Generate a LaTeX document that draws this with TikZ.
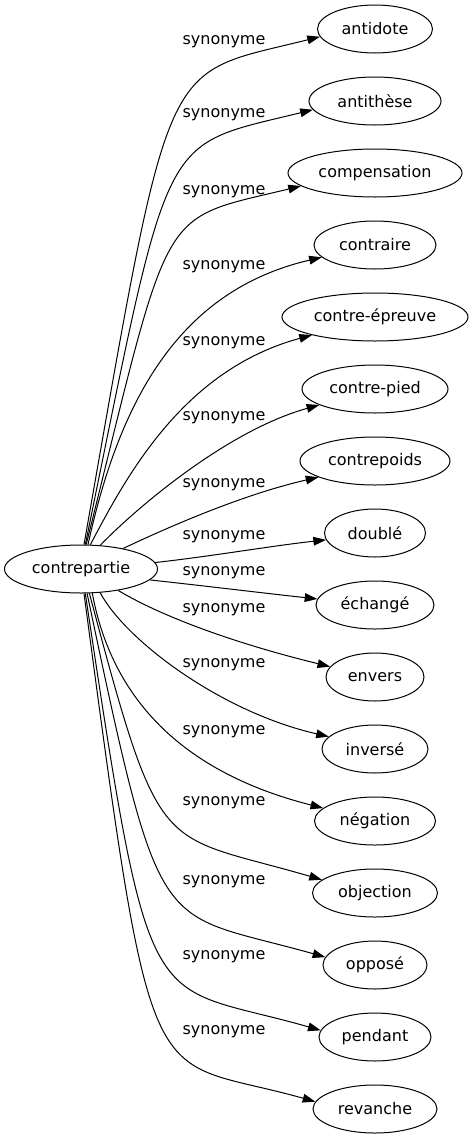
\documentclass[tikz,border=0pt]{standalone}
\usepackage{fontspec}
\setmainfont{DejaVu Sans}
\usetikzlibrary{shapes.geometric,arrows.meta}

\tikzset{
  mot/.style={draw, ellipse, inner sep=0pt, minimum height=36pt, line width=0.75pt, font=\fontsize{12}{14}\selectfont},
  lien/.style={line width=0.75pt, -{Triangle[length=9.5pt,width=6.5pt]}},
  etiquette/.style={inner sep=0pt, font=\fontsize{12}{14}\selectfont}
}

\begin{document}
\begin{tikzpicture}[x=0.75pt, y=-0.75pt]
  \useasboundingbox (0,0) rectangle (473,1139);

      % NOEUD CENTRAL
      \node[mot, minimum width=114.75pt] (contrepartie) at (81,569) {contrepartie};

      % NOEUDS DROITE
      \node[mot, minimum width=86.25pt]  (antidote)      at (375,29)   {antidote};
      \node[mot, minimum width=99pt]     (antithese)     at (375,101)  {antithèse};
      \node[mot, minimum width=130.5pt]  (compensation)  at (375,173)  {compensation};
      \node[mot, minimum width=91.5pt]   (contraire)     at (375,245)  {contraire};
      \node[mot, minimum width=139.5pt]  (contreepreuve) at (375,317)  {contre-épreuve};
      \node[mot, minimum width=109.5pt]  (contrepied)    at (375,389)  {contre-pied};
      \node[mot, minimum width=112.5pt]  (contrepoids)   at (375,461)  {contrepoids};
      \node[mot, minimum width=75.75pt]  (double)        at (375,533)  {doublé};
      \node[mot, minimum width=88.5pt]   (echange)       at (375,605)  {échangé};
      \node[mot, minimum width=73.5pt]   (envers)        at (375,677)  {envers};
      \node[mot, minimum width=79.5pt]   (inverse)       at (375,749)  {inversé};
      \node[mot, minimum width=90.75pt]  (negation)      at (375,821)  {négation};
      \node[mot, minimum width=93.75pt]  (objection)     at (375,893)  {objection};
      \node[mot, minimum width=78pt]     (oppose)        at (375,965)  {opposé};
      \node[mot, minimum width=84pt]     (pendant)       at (375,1037) {pendant};
      \node[mot, minimum width=93pt]     (revanche)      at (375,1109) {revanche};

      % ETIQUETTES
      \node[etiquette] (s-antidote)      at (224,42)   {synonyme};
      \node[etiquette] (s-antithese)     at (224,115)  {synonyme};
      \node[etiquette] (s-compensation)  at (224,192)  {synonyme};
      \node[etiquette] (s-contraire)     at (224,267)  {synonyme};
      \node[etiquette] (s-contreepreuve) at (224,343)  {synonyme};
      \node[etiquette] (s-contrepied)    at (224,418)  {synonyme};
      \node[etiquette] (s-contrepoids)   at (224,485)  {synonyme};
      \node[etiquette] (s-double)        at (224,537)  {synonyme};
      \node[etiquette] (s-echange)       at (224,573)  {synonyme};
      \node[etiquette] (s-envers)        at (224,610)  {synonyme};
      \node[etiquette] (s-inverse)       at (224,665)  {synonyme};
      \node[etiquette] (s-negation)      at (224,732)  {synonyme};
      \node[etiquette] (s-objection)     at (224,803)  {synonyme};
      \node[etiquette] (s-oppose)        at (224,882)  {synonyme};
      \node[etiquette] (s-pendant)       at (224,957)  {synonyme};
      \node[etiquette] (s-revanche)      at (224,1032) {synonyme};

      % ARETES HAUT
      \draw[lien] (contrepartie.83) .. controls +(88,-500) and +(-160,40) .. (antidote.188);
      \draw[lien] (contrepartie.80) .. controls +(86,-420) and +(-155,38) .. (antithese.188);
      \draw[lien] (contrepartie.78) .. controls +(86,-345) and +(-145,35) .. (compensation.190);
      \draw[lien] (contrepartie.74) .. controls +(32,-146) and +(-142,33) .. (contraire.193);
      \draw[lien] (contrepartie.69) .. controls +(35,-66) and +(-130,35) .. (contreepreuve.196);
      \draw[lien] (contrepartie.51) .. controls +(40,-41) and +(-90,25) .. (contrepied.196);
      \draw[lien] (contrepartie.26) .. controls +(38,-18) and +(-79,18) .. (contrepoids.196);

      % ARETES MILIEU
      \draw[lien] (contrepartie.5) .. controls +(55,-6) and +(-55,6) .. (double.188);
      \draw[lien] (contrepartie.-9) .. controls +(55,6) and +(-55,-6) .. (echange.174);

      % ARETES BAS
      \draw[lien] (contrepartie.-30) .. controls +(47,28) and +(-90,-22) .. (envers.167);
      \draw[lien] (contrepartie.-51) .. controls +(25,47) and +(-109,-25) .. (inverse.165);
      \draw[lien] (contrepartie.-65) .. controls +(18,97) and +(-150,-38) .. (negation.166);
      \draw[lien] (contrepartie.-71) .. controls +(72,270) and +(-165,-48) .. (objection.166);
      \draw[lien] (contrepartie.-76) .. controls +(75,355) and +(-170,-48) .. (oppose.171);
      \draw[lien] (contrepartie.-80) .. controls +(66,440) and +(-175,-50) .. (pendant.173);
      \draw[lien] (contrepartie.-83) .. controls +(70,525) and +(-170,-48) .. (revanche.173);
\end{tikzpicture}
\end{document}
